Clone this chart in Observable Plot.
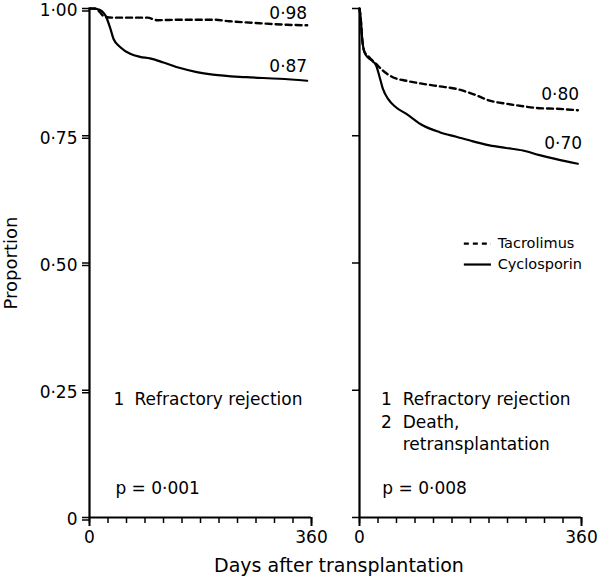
<!DOCTYPE html>
<html>
<head>
<meta charset="utf-8">
<script src="https://cdn.jsdelivr.net/npm/d3@7"></script>
<script src="https://cdn.jsdelivr.net/npm/@observablehq/plot@0.6"></script>
<style>
  html, body { margin: 0; padding: 0; background: #fff; }
  #wrap { width: 600px; font-family: "DejaVu Sans", sans-serif; color: #000; }
  #xtitle { width: 600px; box-sizing: border-box; padding-left: 78px; text-align: center;
            font-size: 19px; line-height: 26px; height: 26px; }
</style>
</head>
<body>
<div id="wrap"></div>
<script>
// Panels
const panels = ["A", "B"];

// Left panel (A): refractory rejection
const tacDaysA = [0, 10, 16, 24, 40, 94, 110, 150, 200, 227, 276, 320, 353];
const tacPropA = [1.0, 1.0, 0.994, 0.984, 0.982, 0.982, 0.977, 0.978, 0.978, 0.975, 0.971, 0.968, 0.967];
const cycDaysA = [0, 12, 20, 26, 34, 39, 50, 66, 82, 98, 120, 147, 174, 200, 254, 308, 353];
const cycPropA = [1.0, 0.999, 0.995, 0.986, 0.960, 0.940, 0.924, 0.911, 0.905, 0.902, 0.894, 0.883, 0.875, 0.870, 0.865, 0.862, 0.858];

// Right panel (B): refractory rejection, death, retransplantation
const tacDaysB = [0, 2, 4.4, 8, 13.5, 27, 38, 54, 76, 103, 130, 157, 184, 211, 238, 265, 292, 319, 354];
const tacPropB = [1.0, 0.98, 0.94, 0.915, 0.907, 0.891, 0.878, 0.865, 0.858, 0.852, 0.847, 0.842, 0.832, 0.819, 0.813, 0.808, 0.804, 0.803, 0.800];
const cycDaysB = [0, 2, 4.4, 8, 13.5, 21.6, 27, 32, 38, 46, 59, 76, 103, 130, 157, 184, 211, 238, 265, 292, 319, 354];
const cycPropB = [1.0, 0.98, 0.94, 0.914, 0.904, 0.896, 0.888, 0.868, 0.842, 0.823, 0.806, 0.793, 0.770, 0.757, 0.748, 0.739, 0.731, 0.726, 0.721, 0.712, 0.704, 0.695];

// Tick labels
const xTicks = [0, 30, 60, 90, 120, 150, 180, 210, 240, 270, 300, 330, 360];
const xTickLabels = ["0", "360"];
const yTicks = [0, 0.25, 0.5, 0.75, 1];
const yTickLabels = ["0", "0·25", "0·50", "0·75", "1·00"];

// End-of-curve labels
const endLabels = ["0·98", "0·87", "0·80", "0·70"];
const endLabelPanels = ["A", "A", "B", "B"];

// Annotations
const notes = ["1", "Refractory rejection", "p = 0·001",
               "1", "Refractory rejection", "2", "Death,", "retransplantation", "p = 0·008"];
const notePanels = ["A", "A", "A", "B", "B", "B", "B", "B", "B"];

// Legend
const seriesNames = ["Tacrolimus", "Cyclosporin"];

const toRows = (panel, series, days, props) => days.map((d, i) => ({panel, series, day: d, prop: props[i]}));
const tacRows = [...toRows("A", "Tacrolimus", tacDaysA, tacPropA), ...toRows("B", "Tacrolimus", tacDaysB, tacPropB)];
const cycRows = [...toRows("A", "Cyclosporin", cycDaysA, cycPropA), ...toRows("B", "Cyclosporin", cycDaysB, cycPropB)];

const endX = [353, 353, 356, 361];
const endY = [0.992, 0.887, 0.832, 0.736];
const noteX = [39, 73, 42, 35, 70, 35, 70, 70, 37];
const noteY = [0.2315, 0.2315, 0.0568, 0.2315, 0.2315, 0.1865, 0.1865, 0.1429, 0.0568];
const legendY = [0.538, 0.497];

const chart = Plot.plot({
  width: 600,
  height: 552,
  marginLeft: 89,
  marginRight: 18,
  marginTop: 8,
  marginBottom: 35,
  style: {fontFamily: "DejaVu Sans", fontSize: "17px", color: "#000", background: "#fff", overflow: "visible"},
  fx: {domain: panels, axis: null, paddingInner: 48 / 270.5, paddingOuter: 0},
  x: {domain: [0, 360], label: null},
  y: {domain: [0, 1], label: null},
  marks: [
    Plot.axisX({ticks: xTicks, tickSize: 6, tickFormat: () => "", strokeWidth: 1.5, label: null}),
    Plot.axisX({ticks: [0, 360], tickSize: 9, tickPadding: 4, strokeWidth: 2,
                tickFormat: d => xTickLabels[d === 0 ? 0 : 1], fontSize: 17, label: null}),
    Plot.axisY({ticks: yTicks, tickSize: 7, tickFormat: () => "", strokeWidth: 1.5, facetAnchor: null, label: null}),
    Plot.axisY({ticks: yTicks, tickSize: 7, tickPadding: 5, strokeWidth: 1.5, dy: 2.5,
                tickFormat: d => yTickLabels[yTicks.indexOf(d)], fontSize: 17, label: null}),
    Plot.ruleX([0], {strokeWidth: 2.2}),
    Plot.ruleY([0], {strokeWidth: 2.2}),
    Plot.line(tacRows, {x: "day", y: "prop", fx: "panel", z: "panel", strokeWidth: 2.4,
                        strokeDasharray: "6,4", curve: "monotone-x"}),
    Plot.line(cycRows, {x: "day", y: "prop", fx: "panel", z: "panel", strokeWidth: 2.2, curve: "monotone-x"}),
    Plot.text(endLabels, {fx: (d, i) => endLabelPanels[i], x: (d, i) => endX[i], y: (d, i) => endY[i],
                          text: d => d, textAnchor: "end", lineAnchor: "middle", fontSize: 17, dy: 1}),
    Plot.text(notes, {fx: (d, i) => notePanels[i], x: (d, i) => noteX[i], y: (d, i) => noteY[i],
                      text: d => d, textAnchor: "start", lineAnchor: "middle", fontSize: 17}),
    Plot.ruleY(seriesNames.slice(0, 1), {fx: () => "B", y: () => legendY[0], x1: () => 170, x2: () => 214,
                             strokeWidth: 2.4, strokeDasharray: "5,4"}),
    Plot.ruleY(seriesNames.slice(1), {fx: () => "B", y: () => legendY[1], x1: () => 170, x2: () => 214,
                             strokeWidth: 2.2}),
    Plot.text(seriesNames, {fx: () => "B", y: (d, i) => legendY[i], x: () => 224, text: d => d,
                            textAnchor: "start", lineAnchor: "middle", fontSize: 14.5}),
    Plot.text(["Proportion"], {fx: () => "A", y: () => 0.5, frameAnchor: "left", dx: -78, rotate: -90,
                               text: d => d, textAnchor: "middle", lineAnchor: "middle", fontSize: 18})
  ]
});

const wrap = document.getElementById("wrap");
wrap.appendChild(chart);
const xt = document.createElement("div");
xt.id = "xtitle";
xt.textContent = "Days after transplantation";
wrap.appendChild(xt);
</script>
</body>
</html>
